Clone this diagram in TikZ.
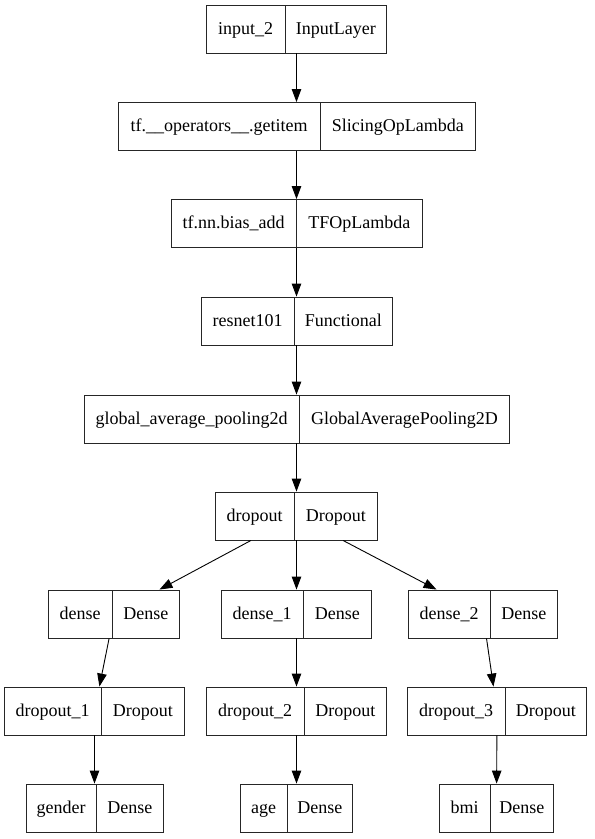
\documentclass[tikz,border=0pt]{standalone}
\usepackage{fontspec}
\setmainfont{Liberation Serif}
\usetikzlibrary{shapes.multipart,arrows.meta}
\newcommand{\cellbox}[2]{\makebox[#1pt]{\rule[-19pt]{0pt}{48pt}#2}}

\begin{document}
\begin{tikzpicture}[x=1pt, y=-1pt,
    layerStyle/.style={rectangle split, rectangle split horizontal, rectangle split parts=2, draw=black!85, line width=0.9pt, inner sep=0pt, font=\fontsize{18}{20}\selectfont},
    arrowStyle/.style={-{Triangle[length=13pt,width=9.5pt]}, line width=0.9pt, draw=black}
]
    \useasboundingbox (0,0) rectangle (595,839);

    % main column
    \node[layerStyle] (input2) at (296.5,29) {\cellbox{78}{input\_2}\nodepart{two}\cellbox{101}{InputLayer}};
    \node[layerStyle] (getitem) at (296.5,126.5) {\cellbox{202}{tf.\_\_operators\_\_.getitem}\nodepart{two}\cellbox{154}{SlicingOpLambda}};
    \node[layerStyle] (biasadd) at (296.5,223.5) {\cellbox{125}{tf.nn.bias\_add}\nodepart{two}\cellbox{125}{TFOpLambda}};
    \node[layerStyle] (resnet) at (296.5,321) {\cellbox{93}{resnet101}\nodepart{two}\cellbox{97}{Functional}};
    \node[layerStyle] (gap) at (296.5,419) {\cellbox{215}{global\_average\_pooling2d}\nodepart{two}\cellbox{209}{GlobalAveragePooling2D}};
    \node[layerStyle] (dropout) at (296.5,516) {\cellbox{78}{dropout}\nodepart{two}\cellbox{83}{Dropout}};

    % three heads
    \node[layerStyle] (dense0) at (114,614) {\cellbox{63}{dense}\nodepart{two}\cellbox{67}{Dense}};
    \node[layerStyle] (dense1) at (296.5,614) {\cellbox{81}{dense\_1}\nodepart{two}\cellbox{68}{Dense}};
    \node[layerStyle] (dense2) at (483,614) {\cellbox{81}{dense\_2}\nodepart{two}\cellbox{67}{Dense}};

    \node[layerStyle] (drop1) at (94.5,711) {\cellbox{96}{dropout\_1}\nodepart{two}\cellbox{83}{Dropout}};
    \node[layerStyle] (drop2) at (296.5,711) {\cellbox{97}{dropout\_2}\nodepart{two}\cellbox{82}{Dropout}};
    \node[layerStyle] (drop3) at (497,711) {\cellbox{97}{dropout\_3}\nodepart{two}\cellbox{81}{Dropout}};

    \node[layerStyle] (gender) at (94.5,808) {\cellbox{70}{gender}\nodepart{two}\cellbox{66}{Dense}};
    \node[layerStyle] (age) at (296.5,808) {\cellbox{46}{age}\nodepart{two}\cellbox{65}{Dense}};
    \node[layerStyle] (bmi) at (496.5,808) {\cellbox{50}{bmi}\nodepart{two}\cellbox{63}{Dense}};

    % edges
    \draw[arrowStyle] (input2) -- (getitem);
    \draw[arrowStyle] (getitem) -- (biasadd);
    \draw[arrowStyle] (biasadd) -- (resnet);
    \draw[arrowStyle] (resnet) -- (gap);
    \draw[arrowStyle] (gap) -- (dropout);
    \draw[arrowStyle] (dropout) -- (dense0);
    \draw[arrowStyle] (dropout) -- (dense1);
    \draw[arrowStyle] (dropout) -- (dense2);
    \draw[arrowStyle] (dense0) -- (drop1);
    \draw[arrowStyle] (dense1) -- (drop2);
    \draw[arrowStyle] (dense2) -- (drop3);
    \draw[arrowStyle] (drop1) -- (gender);
    \draw[arrowStyle] (drop2) -- (age);
    \draw[arrowStyle] (drop3) -- (bmi);
\end{tikzpicture}
\end{document}
